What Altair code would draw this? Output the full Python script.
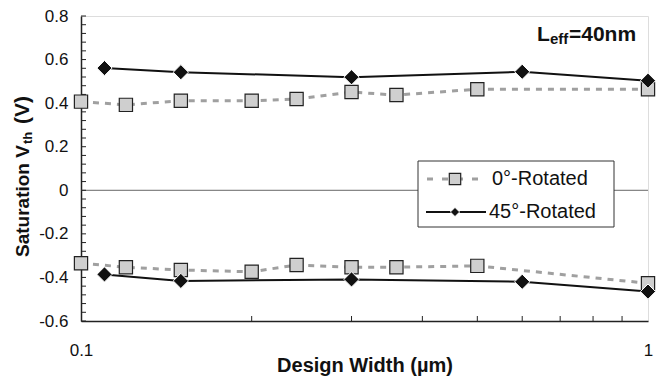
import altair as alt
import pandas as pd

# ---- data ----
x_0deg = [0.1, 0.12, 0.15, 0.2, 0.24, 0.3, 0.36, 0.5, 1.0]
vth_0deg_upper = [0.407, 0.392, 0.411, 0.411, 0.419, 0.451, 0.437, 0.464, 0.464]
vth_0deg_lower = [-0.335, -0.353, -0.366, -0.374, -0.343, -0.353, -0.353, -0.347, -0.427]

x_45deg = [0.11, 0.15, 0.3, 0.6, 1.0]
vth_45deg_upper = [0.561, 0.542, 0.519, 0.544, 0.503]
vth_45deg_lower = [-0.386, -0.416, -0.409, -0.420, -0.465]

y_tick_labels = [-0.6, -0.4, -0.2, 0.0, 0.2, 0.4, 0.6, 0.8]
y_minor_ticks = [round(-0.6 + 0.04 * i, 2) for i in range(36)]
x_tick_labels = [0.1, 1.0]
x_minor_ticks = [0.2, 0.3, 0.4, 0.5, 0.6, 0.7, 0.8, 0.9]

rows = []
for xs, up, lo, s in [(x_0deg, vth_0deg_upper, vth_0deg_lower, "0°"),
                      (x_45deg, vth_45deg_upper, vth_45deg_lower, "45°")]:
    for x, v in zip(xs, up):
        rows.append({"width": x, "vth": v, "series": s, "branch": "upper"})
    for x, v in zip(xs, lo):
        rows.append({"width": x, "vth": v, "series": s, "branch": "lower"})
df = pd.DataFrame(rows)

FONT = "Liberation Sans"
W, H = 567, 305

xenc = alt.X("width:Q",
             scale=alt.Scale(type="log", domain=[0.1, 1.0]),
             axis=alt.Axis(values=x_tick_labels, format="~g", title="Design Width (µm)",
                           ticks=False, grid=False, labelPadding=21, labelFlush=False,
                           labelFontSize=17, labelFont=FONT, labelColor="#111",
                           titleFont=FONT, titleFontSize=20, titleFontWeight="bold",
                           titleColor="#111", titleBaseline="alphabetic", titleY=50,
                           domainColor="#222", domainWidth=1.5))
yenc = alt.Y("vth:Q",
             scale=alt.Scale(domain=[-0.6, 0.8], nice=False, zero=False),
             axis=alt.Axis(values=y_tick_labels, title=None, ticks=False, grid=False,
                           labelExpr="datum.value == 0 ? '0' : (datum.value < 0 ? '-' : '') + format(abs(datum.value), '.1f')",
                           labelPadding=13, labelFontSize=17, labelFont=FONT, labelColor="#111",
                           domainColor="#222", domainWidth=1.5))

one = alt.Chart(pd.DataFrame({"a": [0]}))

zero_line = alt.Chart(pd.DataFrame({"vth": [0.0]})).mark_rule(color="#666", strokeWidth=1).encode(y=yenc)

yticks = alt.Chart(pd.DataFrame({"vth": y_minor_ticks})).mark_rule(color="#222", strokeWidth=1).encode(
    y=yenc, x=alt.value(0), x2=alt.value(5))
xticks = alt.Chart(pd.DataFrame({"width": x_minor_ticks})).mark_rule(color="#222", strokeWidth=1).encode(
    x=xenc, y=alt.value(H), y2=alt.value(H - 5))

base = alt.Chart(df)
gray_line = base.transform_filter(alt.datum.series == "0°").mark_line(
    color="#a0a0a0", strokeWidth=3, strokeDash=[6, 6]).encode(x=xenc, y=yenc, detail="branch:N")
black_line = base.transform_filter(alt.datum.series == "45°").mark_line(
    color="#111", strokeWidth=2).encode(x=xenc, y=yenc, detail="branch:N")
squares = base.transform_filter(alt.datum.series == "0°").mark_point(
    shape="square", size=175, filled=True, fill="#cfcfcf", stroke="#222", strokeWidth=1.2, opacity=1
).encode(x=xenc, y=yenc)
diamonds = base.transform_filter(alt.datum.series == "45°").mark_point(
    shape="diamond", size=230, filled=True, fill="#111", stroke="white", strokeWidth=1, opacity=1
).encode(x=xenc, y=yenc)

# ---- legend (drawn) ----
LX0, LX1, LY0, LY1 = 337, 533, 145, 211
legend_box = one.mark_rect(fill="white", stroke="#333", strokeWidth=1).encode(
    x=alt.value(LX0), x2=alt.value(LX1), y=alt.value(LY0), y2=alt.value(LY1))
leg1_line = one.mark_rule(color="#a0a0a0", strokeWidth=3, strokeDash=[6, 9]).encode(
    x=alt.value(346), x2=alt.value(402), y=alt.value(163))
leg1_sym = one.mark_point(shape="square", size=130, filled=True, fill="#cfcfcf", stroke="#222",
                          strokeWidth=1.2, opacity=1).encode(x=alt.value(374), y=alt.value(163))
leg1_txt = one.mark_text(align="left", baseline="middle", font=FONT, fontSize=20, color="#111").encode(
    x=alt.value(411), y=alt.value(163), text=alt.value("0°-Rotated"))
leg2_line = one.mark_rule(color="#111", strokeWidth=2).encode(
    x=alt.value(345), x2=alt.value(405), y=alt.value(196))
leg2_sym = one.mark_point(shape="diamond", size=85, filled=True, fill="#111", stroke="white",
                          strokeWidth=1, opacity=1).encode(x=alt.value(374), y=alt.value(196))
leg2_txt = one.mark_text(align="left", baseline="middle", font=FONT, fontSize=20, color="#111").encode(
    x=alt.value(408), y=alt.value(196), text=alt.value("45°-Rotated"))

# ---- L_eff annotation ----
ann_L = one.mark_text(align="left", baseline="alphabetic", font=FONT, fontSize=21,
                      fontWeight="bold", color="#111").encode(
    x=alt.value(456), y=alt.value(25), text=alt.value("L"))
ann_sub = one.mark_text(align="left", baseline="alphabetic", font=FONT, fontSize=15,
                        fontWeight="bold", color="#111").encode(
    x=alt.value(469), y=alt.value(28), text=alt.value("eff"))
ann_main = one.mark_text(align="left", baseline="alphabetic", font=FONT, fontSize=21,
                         fontWeight="bold", color="#111").encode(
    x=alt.value(488), y=alt.value(25), text=alt.value("=40nm"))

# ---- y-axis title with subscript ----
yt1 = one.mark_text(align="left", baseline="alphabetic", angle=270, font=FONT, fontSize=19,
                    fontWeight="bold", color="#111").encode(
    x=alt.value(-52), y=alt.value(241), text=alt.value("Saturation V"))
yt2 = one.mark_text(align="left", baseline="alphabetic", angle=270, font=FONT, fontSize=13,
                    fontWeight="bold", color="#111").encode(
    x=alt.value(-49), y=alt.value(128), text=alt.value("th"))
yt3 = one.mark_text(align="left", baseline="alphabetic", angle=270, font=FONT, fontSize=21,
                    fontWeight="bold", color="#111").encode(
    x=alt.value(-52), y=alt.value(108), text=alt.value("(V)"))

chart = alt.layer(
    zero_line, yticks, xticks, gray_line, black_line, squares, diamonds,
    legend_box, leg1_line, leg1_sym, leg1_txt, leg2_line, leg2_sym, leg2_txt,
    ann_L, ann_sub, ann_main, yt1, yt2, yt3
).properties(
    width=W, height=H,
    autosize=alt.AutoSizeParams(type="none"),
    padding={"left": 73, "top": 8, "right": 16, "bottom": 56},
).configure_view(stroke="#555", strokeWidth=1).configure(background="white")

chart.save("out.html", embed_options={"renderer": "svg", "actions": False})
